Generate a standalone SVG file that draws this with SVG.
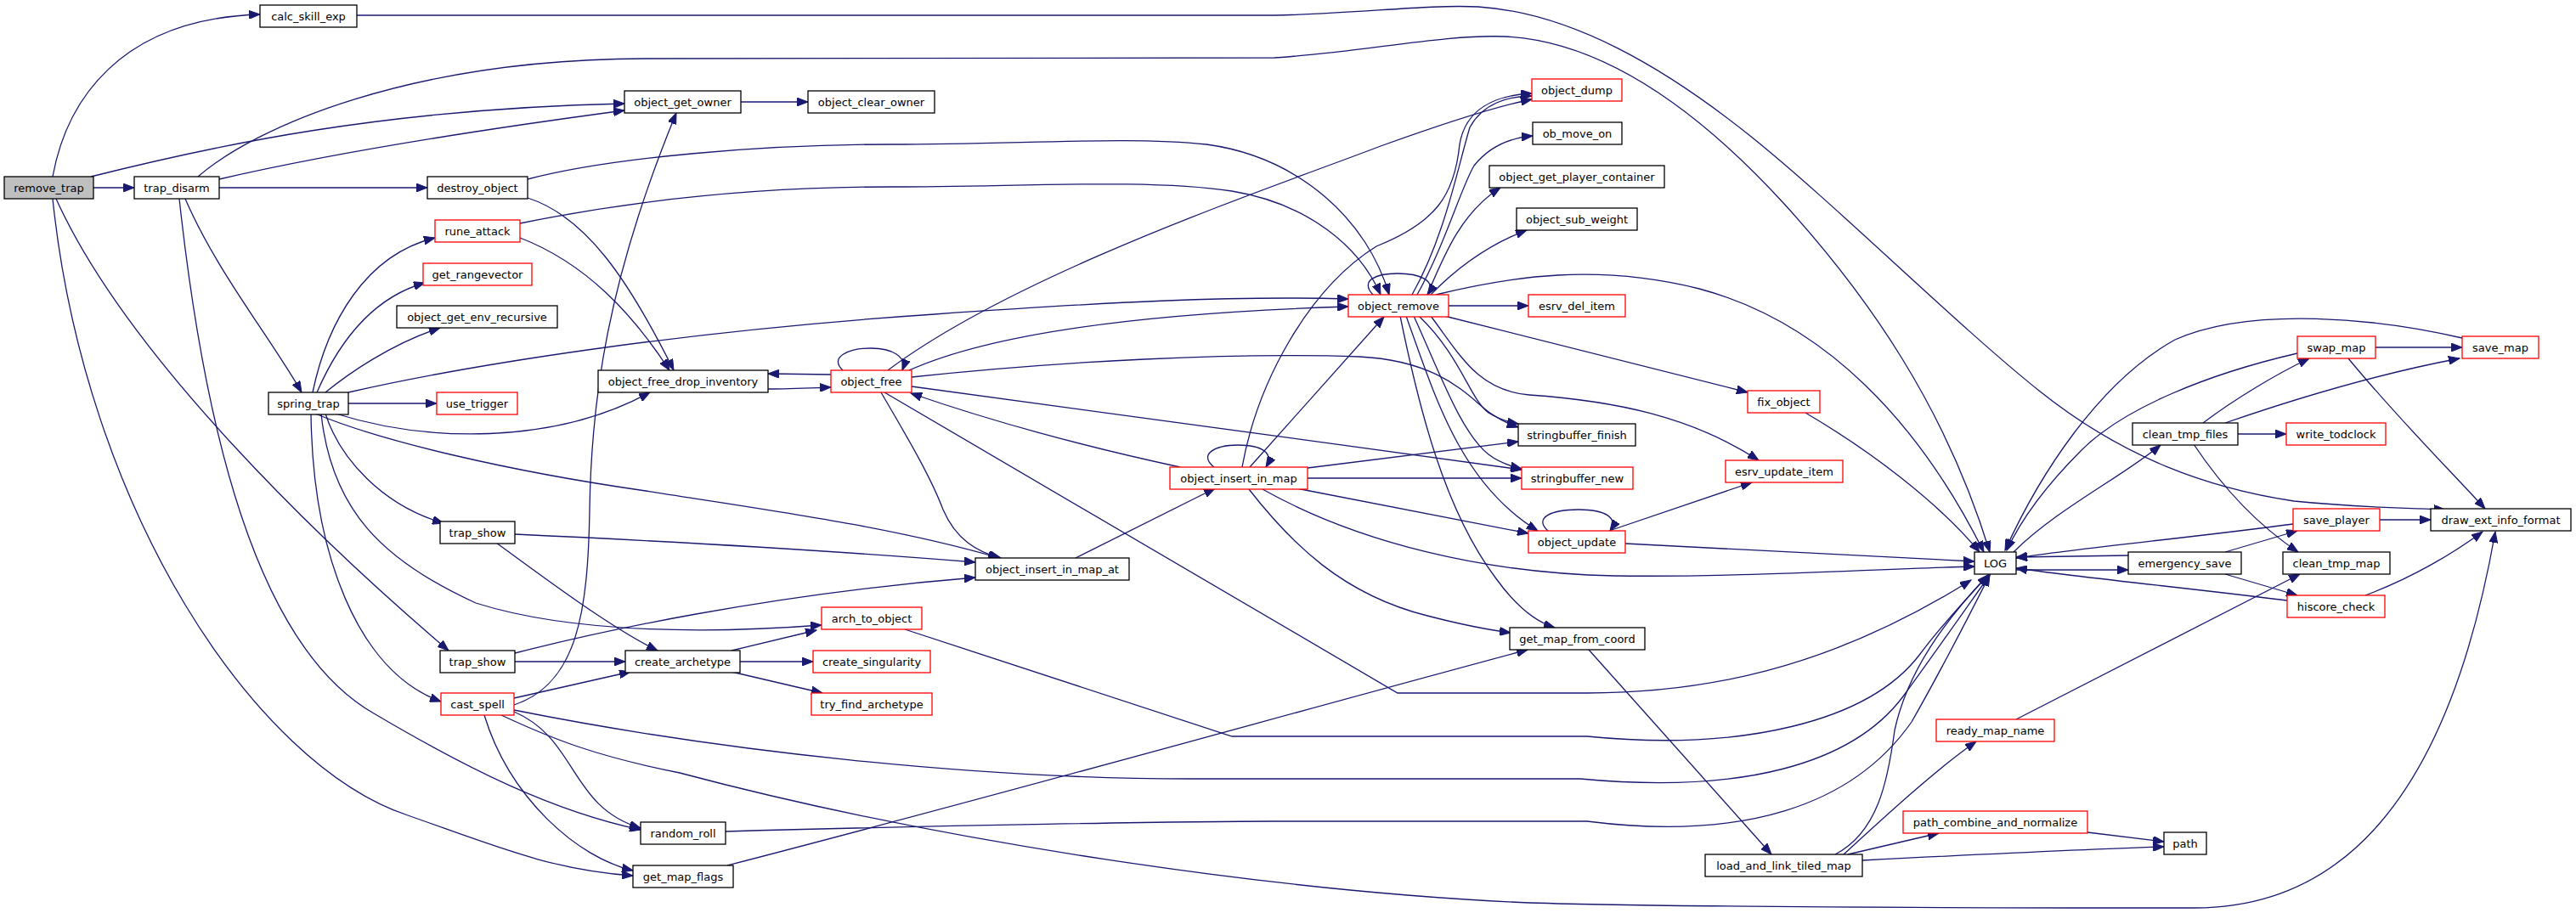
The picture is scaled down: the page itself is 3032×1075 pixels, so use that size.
<svg xmlns="http://www.w3.org/2000/svg" width="3032" height="1075" viewBox="0 0 3032 1075">
<defs>
<marker id="a" markerWidth="14" markerHeight="10" refX="13" refY="5" orient="auto" markerUnits="userSpaceOnUse"><path d="M0,0 L13,5 L0,10 z" fill="#191970" stroke="#191970" stroke-width="1"/></marker>
<style>
.n rect{fill:#fff;stroke:#000;stroke-width:1.3}
.n.r rect{stroke:#ff0000}
.n.root rect{fill:#bfbfbf}
.n text{font-family:"DejaVu Sans","Liberation Sans",sans-serif;font-size:13px;text-anchor:middle;fill:#000}
#edges path{fill:none;stroke:#191970;stroke-width:1.3;marker-end:url(#a)}
</style>
</defs>
<rect width="3032" height="1075" fill="#fff"/>
<g id="edges">
<path d="M62,208 C78,120 140,22 306,17"/>
<path d="M110,221 L158,221"/>
<path d="M107,208 C250,172 450,128 735,122"/>
<path d="M66,234 C150,420 380,640 528,766"/>
<path d="M62,234 C100,600 300,900 480,960 C580,995 650,1025 745,1031"/>
<path d="M258,211 C400,178 600,148 735,130"/>
<path d="M258,221 L503,221"/>
<path d="M218,234 C255,320 320,400 355,462"/>
<path d="M211,234 C240,500 300,760 440,840 C550,905 650,955 754,977"/>
<path d="M233,208 C300,150 480,70 760,69 L1500,68 C1600,62 1700,40 1771,43 C1880,48 1990,120 2100,240 C2200,350 2290,480 2342,650"/>
<path d="M420,18 L1500,18 C1600,16 1680,5 1740,8 C1850,15 1960,80 2060,160 C2160,240 2300,380 2400,460 C2500,540 2600,575 2700,590 C2780,598 2830,598 2878,600"/>
<path d="M621,211 C720,185 900,170 1050,170 C1200,170 1330,160 1420,170 C1530,185 1610,260 1635,347"/>
<path d="M621,233 C690,255 740,330 793,436"/>
<path d="M612,263 C700,245 850,220 1050,220 C1200,220 1350,210 1450,225 C1540,240 1600,290 1625,347"/>
<path d="M612,280 C690,310 745,370 788,436"/>
<path d="M368,462 C385,380 430,300 512,280"/>
<path d="M373,462 C400,400 440,350 500,333"/>
<path d="M383,462 C410,440 460,405 518,386"/>
<path d="M410,475 L514,475"/>
<path d="M410,462 C550,430 800,390 1100,370 C1300,356 1450,348 1587,352"/>
<path d="M395,487 C500,520 650,525 765,462"/>
<path d="M371,487 C450,520 600,555 760,578 C900,600 1050,620 1176,657"/>
<path d="M383,487 C400,540 450,595 522,616"/>
<path d="M378,487 C390,600 450,660 560,710 C680,748 850,745 967,736"/>
<path d="M366,487 C368,650 420,790 519,826"/>
<path d="M606,629 C800,638 1000,650 1148,662"/>
<path d="M584,639 C640,680 720,740 774,766"/>
<path d="M606,769 C700,745 900,700 1148,680"/>
<path d="M606,779 L736,779"/>
<path d="M605,822 L742,791"/>
<path d="M605,830 C680,805 692,720 694,600 C696,470 715,330 796,133"/>
<path d="M605,838 C680,870 670,950 754,975"/>
<path d="M570,842 C600,940 680,1010 745,1025"/>
<path d="M605,836 C850,885 1150,917 1400,917 L1860,917 C2050,935 2180,900 2240,820 C2280,765 2315,715 2342,677"/>
<path d="M590,842 C650,870 700,890 800,910 C1100,990 1500,1050 1800,1063 C2000,1069 2400,1069 2583,1069 C2750,1069 2880,950 2937,626"/>
<path d="M861,766 L961,742"/>
<path d="M871,779 L957,779"/>
<path d="M861,791 L968,816"/>
<path d="M872,120 L951,120"/>
<path d="M978,441 L904,440"/>
<path d="M904,458 C930,458 950,457 978,456"/>
<path d="M992,436 C975,420 1000,410 1025,410 C1050,410 1068,420 1062,436"/>
<path d="M1045,436 C1200,320 1500,220 1625,172 C1700,145 1760,125 1803,117"/>
<path d="M1070,436 C1150,400 1300,370 1587,361"/>
<path d="M1073,444 C1250,425 1450,415 1600,420 C1700,425 1730,470 1755,487 C1765,494 1775,499 1787,503"/>
<path d="M1073,455 C1300,485 1550,520 1791,553"/>
<path d="M1037,462 C1065,510 1095,560 1110,600 C1125,635 1150,650 1178,657"/>
<path d="M1041,462 L1645,816 L1868,816 C2000,816 2150,790 2320,683"/>
<path d="M1389,550 C1250,520 1150,490 1072,463"/>
<path d="M1429,550 C1410,535 1430,524 1457,524 C1485,524 1500,533 1490,550"/>
<path d="M1471,550 L1629,373"/>
<path d="M1462,550 C1480,450 1540,340 1620,290 C1690,262 1712,230 1718,170 C1725,128 1760,112 1803,110"/>
<path d="M1539,551 L1787,520"/>
<path d="M1539,563 L1791,563"/>
<path d="M1526,575 L1799,628"/>
<path d="M1470,576 C1520,640 1580,700 1680,725 C1730,738 1755,742 1778,745"/>
<path d="M1486,576 C1600,640 1750,675 1900,678 C2050,680 2200,670 2324,667"/>
<path d="M1266,657 L1430,575"/>
<path d="M1616,347 C1600,330 1620,322 1645,322 C1670,322 1692,330 1680,347"/>
<path d="M1662,347 C1700,280 1715,200 1730,150 C1745,122 1775,113 1803,113"/>
<path d="M1668,347 C1700,290 1720,220 1735,195 C1755,170 1780,162 1804,160"/>
<path d="M1680,347 C1700,300 1720,250 1766,221"/>
<path d="M1684,347 C1720,310 1760,285 1797,271"/>
<path d="M1705,360 L1799,360"/>
<path d="M1700,372 L2057,462"/>
<path d="M1690,347 C1780,325 1880,310 2000,340 C2150,380 2260,500 2335,650"/>
<path d="M1670,372 C1720,420 1730,470 1752,486 C1765,494 1775,497 1787,499"/>
<path d="M1664,372 C1695,440 1720,510 1752,535 C1765,545 1778,549 1791,552"/>
<path d="M1655,372 C1690,470 1720,570 1810,625"/>
<path d="M1648,372 C1670,480 1700,600 1760,680 C1785,715 1810,733 1830,739"/>
<path d="M1684,372 C1720,420 1740,460 1800,465 C1900,472 1990,490 2070,542"/>
<path d="M1822,625 C1805,610 1825,600 1858,600 C1890,600 1905,610 1895,625"/>
<path d="M1894,625 L2062,568"/>
<path d="M1913,640 C2050,647 2200,655 2324,661"/>
<path d="M2125,486 C2200,530 2280,590 2330,650"/>
<path d="M856,1019 C1200,930 1500,845 1798,765"/>
<path d="M1870,765 L2085,1006"/>
<path d="M1065,741 L1450,867 L1868,867 C2050,885 2200,850 2260,770 C2290,730 2320,700 2340,677"/>
<path d="M854,979 C1100,972 1400,967 1500,967 L1868,967 C2050,990 2180,950 2250,850 C2290,780 2320,720 2342,677"/>
<path d="M2160,1006 C2210,980 2222,920 2230,860 C2245,790 2290,730 2340,677"/>
<path d="M2170,1006 C2220,960 2280,905 2326,873"/>
<path d="M2175,1006 L2282,981"/>
<path d="M2192,1013 C2350,1005 2450,1000 2547,997"/>
<path d="M2457,980 L2547,991"/>
<path d="M2373,847 L2707,676"/>
<path d="M2370,650 C2420,600 2500,560 2543,524"/>
<path d="M2373,671 L2505,671"/>
<path d="M2505,654 L2373,656"/>
<path d="M2699,617 C2580,633 2450,645 2373,657"/>
<path d="M2692,707 C2580,693 2450,680 2373,669"/>
<path d="M2619,650 L2704,625"/>
<path d="M2619,676 L2704,701"/>
<path d="M2801,612 L2861,612"/>
<path d="M2784,701 C2840,680 2890,650 2922,626"/>
<path d="M2796,409 L2898,409"/>
<path d="M2704,416 C2600,440 2500,480 2450,530 C2400,580 2375,620 2362,648"/>
<path d="M2898,398 C2800,375 2650,360 2560,400 C2470,450 2400,560 2360,648"/>
<path d="M2764,422 C2820,490 2880,550 2925,599"/>
<path d="M2593,498 C2630,470 2680,440 2718,422"/>
<path d="M2619,498 C2700,470 2800,440 2895,422"/>
<path d="M2634,511 L2691,511"/>
<path d="M2582,523 C2620,580 2660,620 2705,650"/>
</g>
<g id="n_remove_trap" class="n root"><rect x="5" y="208" width="105" height="26"/><text x="57.5" y="225.5">remove_trap</text></g>
<g id="n_calc_skill_exp" class="n"><rect x="306" y="6" width="114" height="26"/><text x="363" y="23.5">calc_skill_exp</text></g>
<g id="n_trap_disarm" class="n"><rect x="158" y="208" width="100" height="26"/><text x="208" y="225.5">trap_disarm</text></g>
<g id="n_object_get_owner" class="n"><rect x="735" y="107" width="137" height="26"/><text x="803.5" y="124.5">object_get_owner</text></g>
<g id="n_object_clear_owner" class="n"><rect x="951" y="107" width="149" height="26"/><text x="1025.5" y="124.5">object_clear_owner</text></g>
<g id="n_destroy_object" class="n"><rect x="503" y="208" width="118" height="26"/><text x="562" y="225.5">destroy_object</text></g>
<g id="n_rune_attack" class="n r"><rect x="512" y="259" width="100" height="26"/><text x="562" y="276.5">rune_attack</text></g>
<g id="n_get_rangevector" class="n r"><rect x="498" y="310" width="128" height="26"/><text x="562" y="327.5">get_rangevector</text></g>
<g id="n_object_get_env_recursive" class="n"><rect x="467" y="360" width="189" height="26"/><text x="561.5" y="377.5">object_get_env_recursive</text></g>
<g id="n_spring_trap" class="n"><rect x="316" y="462" width="94" height="26"/><text x="363" y="479.5">spring_trap</text></g>
<g id="n_use_trigger" class="n r"><rect x="514" y="462" width="95" height="26"/><text x="561.5" y="479.5">use_trigger</text></g>
<g id="n_object_free_drop_inventory" class="n"><rect x="704" y="436" width="200" height="26"/><text x="804" y="453.5">object_free_drop_inventory</text></g>
<g id="n_object_free" class="n r"><rect x="978" y="436" width="95" height="26"/><text x="1025.5" y="453.5">object_free</text></g>
<g id="n_trap_show_1" class="n"><rect x="518" y="614" width="88" height="26"/><text x="562" y="631.5">trap_show</text></g>
<g id="n_trap_show_2" class="n"><rect x="518" y="766" width="88" height="26"/><text x="562" y="783.5">trap_show</text></g>
<g id="n_cast_spell" class="n r"><rect x="519" y="816" width="86" height="26"/><text x="562" y="833.5">cast_spell</text></g>
<g id="n_object_insert_in_map_at" class="n"><rect x="1148" y="657" width="181" height="26"/><text x="1238.5" y="674.5">object_insert_in_map_at</text></g>
<g id="n_arch_to_object" class="n r"><rect x="967" y="715" width="118" height="26"/><text x="1026" y="732.5">arch_to_object</text></g>
<g id="n_create_archetype" class="n"><rect x="736" y="766" width="135" height="26"/><text x="803.5" y="783.5">create_archetype</text></g>
<g id="n_create_singularity" class="n r"><rect x="957" y="766" width="138" height="26"/><text x="1026" y="783.5">create_singularity</text></g>
<g id="n_try_find_archetype" class="n r"><rect x="955" y="816" width="142" height="26"/><text x="1026" y="833.5">try_find_archetype</text></g>
<g id="n_random_roll" class="n"><rect x="754" y="968" width="100" height="26"/><text x="804" y="985.5">random_roll</text></g>
<g id="n_get_map_flags" class="n"><rect x="745" y="1019" width="118" height="26"/><text x="804" y="1036.5">get_map_flags</text></g>
<g id="n_object_insert_in_map" class="n r"><rect x="1377" y="550" width="162" height="26"/><text x="1458" y="567.5">object_insert_in_map</text></g>
<g id="n_object_remove" class="n r"><rect x="1587" y="347" width="118" height="26"/><text x="1646" y="364.5">object_remove</text></g>
<g id="n_object_dump" class="n r"><rect x="1803" y="93" width="106" height="26"/><text x="1856" y="110.5">object_dump</text></g>
<g id="n_ob_move_on" class="n"><rect x="1804" y="144" width="105" height="26"/><text x="1856.5" y="161.5">ob_move_on</text></g>
<g id="n_object_get_player_container" class="n"><rect x="1753" y="195" width="206" height="26"/><text x="1856" y="212.5">object_get_player_container</text></g>
<g id="n_object_sub_weight" class="n"><rect x="1785" y="245" width="142" height="26"/><text x="1856" y="262.5">object_sub_weight</text></g>
<g id="n_esrv_del_item" class="n r"><rect x="1799" y="347" width="114" height="26"/><text x="1856" y="364.5">esrv_del_item</text></g>
<g id="n_fix_object" class="n r"><rect x="2057" y="460" width="85" height="26"/><text x="2099.5" y="477.5">fix_object</text></g>
<g id="n_stringbuffer_finish" class="n"><rect x="1787" y="499" width="138" height="26"/><text x="1856" y="516.5">stringbuffer_finish</text></g>
<g id="n_stringbuffer_new" class="n r"><rect x="1791" y="550" width="131" height="26"/><text x="1856.5" y="567.5">stringbuffer_new</text></g>
<g id="n_esrv_update_item" class="n r"><rect x="2031" y="542" width="138" height="26"/><text x="2100" y="559.5">esrv_update_item</text></g>
<g id="n_object_update" class="n r"><rect x="1799" y="625" width="114" height="26"/><text x="1856" y="642.5">object_update</text></g>
<g id="n_get_map_from_coord" class="n"><rect x="1777" y="739" width="159" height="26"/><text x="1856.5" y="756.5">get_map_from_coord</text></g>
<g id="n_load_and_link_tiled_map" class="n"><rect x="2007" y="1006" width="185" height="26"/><text x="2099.5" y="1023.5">load_and_link_tiled_map</text></g>
<g id="n_LOG" class="n"><rect x="2324" y="650" width="49" height="26"/><text x="2348.5" y="667.5">LOG</text></g>
<g id="n_emergency_save" class="n"><rect x="2505" y="650" width="133" height="26"/><text x="2571.5" y="667.5">emergency_save</text></g>
<g id="n_clean_tmp_map" class="n"><rect x="2687" y="650" width="126" height="26"/><text x="2750" y="667.5">clean_tmp_map</text></g>
<g id="n_save_player" class="n r"><rect x="2699" y="599" width="102" height="26"/><text x="2750" y="616.5">save_player</text></g>
<g id="n_draw_ext_info_format" class="n"><rect x="2861" y="599" width="165" height="26"/><text x="2943.5" y="616.5">draw_ext_info_format</text></g>
<g id="n_hiscore_check" class="n r"><rect x="2692" y="701" width="115" height="26"/><text x="2749.5" y="718.5">hiscore_check</text></g>
<g id="n_ready_map_name" class="n r"><rect x="2279" y="847" width="139" height="26"/><text x="2348.5" y="864.5">ready_map_name</text></g>
<g id="n_path_combine_and_normalize" class="n r"><rect x="2240" y="955" width="217" height="26"/><text x="2348.5" y="972.5">path_combine_and_normalize</text></g>
<g id="n_path" class="n"><rect x="2547" y="980" width="50" height="26"/><text x="2572" y="997.5">path</text></g>
<g id="n_swap_map" class="n r"><rect x="2704" y="396" width="92" height="26"/><text x="2750" y="413.5">swap_map</text></g>
<g id="n_save_map" class="n r"><rect x="2898" y="396" width="90" height="26"/><text x="2943" y="413.5">save_map</text></g>
<g id="n_clean_tmp_files" class="n"><rect x="2510" y="498" width="124" height="26"/><text x="2572" y="515.5">clean_tmp_files</text></g>
<g id="n_write_todclock" class="n r"><rect x="2691" y="498" width="117" height="26"/><text x="2749.5" y="515.5">write_todclock</text></g>
</svg>
